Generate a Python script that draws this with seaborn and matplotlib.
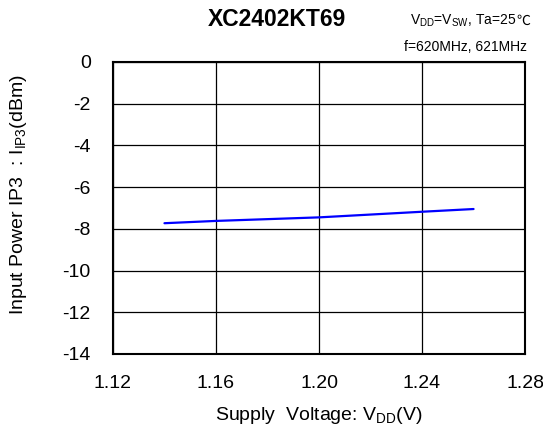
import matplotlib
matplotlib.use("Agg")
import matplotlib.pyplot as plt
import seaborn as sns
import pandas as pd

voltage = [1.14, 1.16, 1.20, 1.24, 1.26]
iip3 = [-7.73, -7.62, -7.45, -7.18, -7.05]
xticks = [1.12, 1.16, 1.20, 1.24, 1.28]
xticklabels = ["1.12", "1.16", "1.20", "1.24", "1.28"]
yticks = [0, -2, -4, -6, -8, -10, -12, -14]
yticklabels = ["0", "-2", "-4", "-6", "-8", "-10", "-12", "-14"]

sns.set_theme(style="white")
plt.rcParams['font.family'] = ['Liberation Sans', 'DejaVu Sans']
plt.rcParams['axes.unicode_minus'] = False
plt.rcParams['mathtext.fontset'] = 'custom'
plt.rcParams['mathtext.rm'] = 'Liberation Sans'
plt.rcParams['mathtext.it'] = 'Liberation Sans:italic'
plt.rcParams['mathtext.bf'] = 'Liberation Sans:bold'

df = pd.DataFrame({"v": voltage, "p": iip3})

fig = plt.figure(figsize=(5.43, 4.32), dpi=100)
ax = fig.add_axes([0.208, 0.1806, 0.759, 0.6759])
sns.lineplot(data=df, x="v", y="p", ax=ax, color="#0000ff", linewidth=1.6)

ax.set_xlim(1.12, 1.28)
ax.set_ylim(-14, 0)
ax.set_xticks(xticks)
ax.set_xticklabels(xticklabels)
ax.set_yticks(yticks)
ax.set_yticklabels(yticklabels)
ax.grid(True, color="black", linewidth=0.9)
for s in ax.spines.values():
    s.set_color("black")
    s.set_linewidth(1.5)
ax.tick_params(axis="both", length=0, labelsize=14, colors="black")
ax.tick_params(axis="x", pad=15)
ax.tick_params(axis="y", pad=16)

ax.set_xlabel(r"Supply  Voltage: V$_{\rm DD}$(V)", fontsize=14, color="black", va="center")
ax.xaxis.set_label_coords(0.5, -0.209)
ax.set_ylabel(r"Input Power IP3  : I$_{\rm IP3}$(dBm)", fontsize=14, color="black", va="center")
ax.yaxis.set_label_coords(-0.228, 0.545)

fig.text(0.510, 0.954, "XC2402KT69", fontsize=16.5, fontweight="bold", ha="center", va="center", color="black")
fig.text(0.951, 0.952, r"V$_{\rm DD}$=V$_{\rm SW}$, Ta=25", fontsize=10, ha="right", va="center", color="black")
fig.text(0.951, 0.952, "℃", fontsize=10, ha="left", va="center", color="black",
         family=['Noto Sans CJK SC', 'DejaVu Sans'])
fig.text(0.97, 0.892, "f=620MHz, 621MHz", fontsize=10, ha="right", va="center", color="black")

fig.savefig("out.png", dpi=100)
